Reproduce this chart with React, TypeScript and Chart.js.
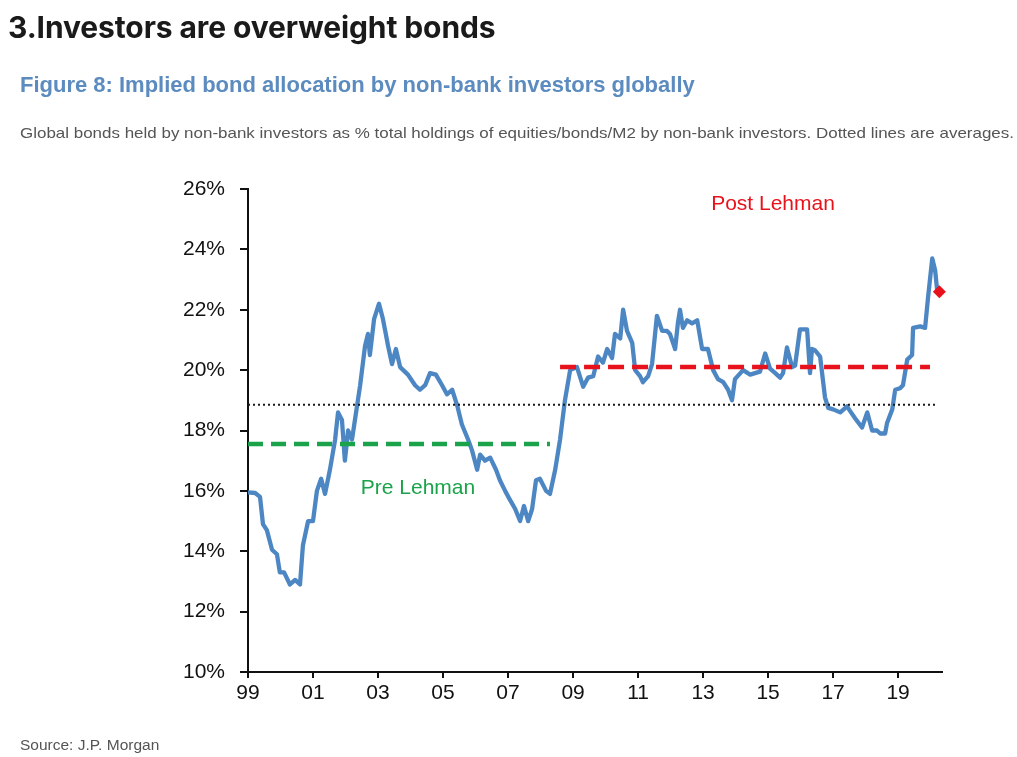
import React, { useEffect, useRef } from 'react';
import { Chart, registerables } from 'chart.js';

Chart.register(...registerables);

// ---- data ----
const years = [
  1999.0, 1999.22, 1999.37, 1999.46, 1999.58, 1999.74, 1999.89, 1999.98, 2000.11, 2000.29, 2000.45, 2000.6,
  2000.69, 2000.85, 2001.0, 2001.12, 2001.25, 2001.37, 2001.52, 2001.68, 2001.77, 2001.89, 2001.98,
  2002.08, 2002.2, 2002.29, 2002.45, 2002.6, 2002.69, 2002.75, 2002.88, 2003.03, 2003.15, 2003.31,
  2003.43, 2003.55, 2003.68, 2003.92, 2004.14, 2004.29, 2004.45, 2004.6, 2004.78, 2004.97, 2005.12,
  2005.28, 2005.43, 2005.58, 2005.77, 2005.89, 2006.05, 2006.14, 2006.29, 2006.45, 2006.63, 2006.75,
  2006.91, 2007.06, 2007.22, 2007.37, 2007.49, 2007.62, 2007.74, 2007.86, 2007.98, 2008.17, 2008.29,
  2008.45, 2008.6, 2008.75, 2008.91, 2009.12, 2009.31, 2009.46, 2009.62, 2009.77, 2009.92, 2010.05,
  2010.2, 2010.29, 2010.45, 2010.54, 2010.66, 2010.82, 2010.91, 2011.06, 2011.15, 2011.31, 2011.43,
  2011.58, 2011.74, 2011.89, 2011.98, 2012.14, 2012.23, 2012.29, 2012.38, 2012.51, 2012.66, 2012.82,
  2012.97, 2013.15, 2013.31, 2013.46, 2013.62, 2013.77, 2013.89, 2013.98, 2014.23, 2014.45, 2014.75,
  2014.91, 2015.06, 2015.22, 2015.37, 2015.46, 2015.58, 2015.74, 2015.83, 2015.98, 2016.2, 2016.29,
  2016.35, 2016.45, 2016.6, 2016.75, 2016.85, 2017.0, 2017.22, 2017.43, 2017.52, 2017.68, 2017.89,
  2018.05, 2018.2, 2018.35, 2018.45, 2018.6, 2018.66, 2018.82, 2018.91, 2019.06, 2019.15, 2019.28,
  2019.43, 2019.46, 2019.68, 2019.83, 2019.92, 2020.05, 2020.14, 2020.2,
];
const allocation = [
  15.95, 15.93, 15.8, 14.9, 14.7, 14.05, 13.9, 13.3, 13.3, 12.9, 13.05, 12.9,
  14.2, 15.0, 15.0, 16.0, 16.4, 15.9, 16.7, 17.7, 18.6, 18.35, 17.0,
  18.0, 17.7, 18.35, 19.5, 20.8, 21.2, 20.5, 21.7, 22.2, 21.7, 20.8,
  20.2, 20.7, 20.1, 19.85, 19.5, 19.35, 19.5, 19.9, 19.85, 19.5, 19.2,
  19.35, 18.85, 18.2, 17.7, 17.35, 16.7, 17.2, 17.0, 17.1, 16.7, 16.35,
  16.0, 15.7, 15.4, 15.0, 15.5, 15.0, 15.4, 16.35, 16.4, 16.0, 15.9,
  16.7, 17.7, 19.0, 20.0, 20.1, 19.45, 19.75, 19.8, 20.45, 20.25, 20.7,
  20.4, 21.2, 21.05, 22.0, 21.3, 20.9, 20.0, 19.8, 19.6, 19.8, 20.2,
  21.8, 21.3, 21.3, 21.2, 20.7, 21.6, 22.0, 21.4, 21.65, 21.55, 21.65,
  20.7, 20.7, 20.0, 19.7, 19.6, 19.35, 19.0, 19.7, 20.0, 19.85, 19.95,
  20.55, 20.05, 19.9, 19.75, 19.9, 20.75, 20.1, 20.15, 21.35, 21.35, 19.9,
  20.7, 20.65, 20.45, 19.1, 18.75, 18.7, 18.6, 18.8, 18.65, 18.4, 18.1,
  18.6, 18.0, 18.0, 17.9, 17.9, 18.25, 18.7, 19.35, 19.4, 19.5, 20.35,
  20.5, 21.4, 21.45, 21.4, 22.4, 23.7, 23.3, 22.65,
];

const fullAverage = 18.85;
const fullRange = [1999, 2020.17];
const preLehmanAverage = 17.55;
const preLehmanRange = [1999, 2008.29];
const postLehmanAverage = 20.1;
const postLehmanRange = [2008.6, 2019.98];
const latestPoint = { x: 2020.27, y: 22.6 };

const yTickValues = [10, 12, 14, 16, 18, 20, 22, 24, 26];
const xTickValues = [1999, 2001, 2003, 2005, 2007, 2009, 2011, 2013, 2015, 2017, 2019];
const xMin = 1999;
const xMax = 2020.35;

const BLUE = '#4d87c3';
const RED = '#e8121c';
const GREEN = '#1aa34a';
const FONT = "'Liberation Sans', Arial, sans-serif";

export default function App() {
  const canvasRef = useRef<HTMLCanvasElement | null>(null);

  useEffect(() => {
    const canvas = canvasRef.current;
    if (!canvas) return;
    const seriesData = years.map((x, i) => ({ x, y: allocation[i] }));
    const chart = new Chart(canvas, {
      type: 'line',
      data: {
        datasets: [
          {
            data: [{ x: fullRange[0], y: fullAverage }, { x: fullRange[1], y: fullAverage }],
            borderColor: '#1a1a1a',
            borderWidth: 2,
            borderDash: [2, 3],
            pointRadius: 0,
          },
          {
            data: [{ x: preLehmanRange[0], y: preLehmanAverage }, { x: preLehmanRange[1], y: preLehmanAverage }],
            borderColor: GREEN,
            borderWidth: 4.5,
            borderDash: [15, 8],
            pointRadius: 0,
          },
          {
            data: [{ x: postLehmanRange[0], y: postLehmanAverage }, { x: postLehmanRange[1], y: postLehmanAverage }],
            borderColor: RED,
            borderWidth: 4.5,
            borderDash: [16, 8],
            pointRadius: 0,
          },
          {
            data: [latestPoint],
            showLine: false,
            clip: false,
            pointStyle: 'rectRot',
            pointRadius: 6.5,
            backgroundColor: RED,
            borderColor: RED,
            borderWidth: 0,
          },
          {
            data: seriesData,
            borderColor: BLUE,
            borderWidth: 4.3,
            pointRadius: 0,
            tension: 0,
            borderJoinStyle: 'round',
            borderCapStyle: 'round',
          },
        ],
      },
      options: {
        responsive: false,
        animation: false,
        devicePixelRatio: 1,
        layout: { padding: { left: 178, top: 189, right: 75, bottom: 45 } },
        plugins: { legend: { display: false }, tooltip: { enabled: false } },
        scales: {
          x: {
            type: 'linear',
            min: xMin,
            max: xMax,
            afterFit: (scale: any) => { scale.height = 40; },
            afterBuildTicks: (scale: any) => { scale.ticks = xTickValues.map((v) => ({ value: v })); },
            ticks: {
              autoSkip: false,
              maxRotation: 0,
              padding: 3,
              color: '#111',
              font: { family: FONT, size: 21 },
              callback: (v: any) => String(Number(v) % 100).padStart(2, '0'),
            },
            grid: { display: true, drawOnChartArea: false, drawTicks: true, tickLength: 6, color: '#111', lineWidth: 2 },
            border: { display: true, color: '#111', width: 2 },
          },
          y: {
            type: 'linear',
            min: 10,
            max: 26,
            afterFit: (scale: any) => { scale.width = 70; },
            afterBuildTicks: (scale: any) => { scale.ticks = yTickValues.map((v) => ({ value: v })); },
            ticks: {
              autoSkip: false,
              padding: 15,
              color: '#111',
              font: { family: FONT, size: 21 },
              callback: (v: any) => `${v}%`,
            },
            grid: { display: true, drawOnChartArea: false, drawTicks: true, tickLength: 8, color: '#111', lineWidth: 2 },
            border: { display: true, color: '#111', width: 2 },
          },
        },
      },
    });
    return () => chart.destroy();
  }, []);

  return (
    <div style={{ position: 'fixed', left: 0, top: 0, width: 1017, height: 757, background: '#fff', overflow: 'hidden' }}>
      <canvas ref={canvasRef} width={1017} height={757} style={{ position: 'absolute', left: 0, top: 0 }} />
      <div style={{ position: 'absolute', left: 8, top: 7, fontFamily: "Inter, 'Open Sans', sans-serif", fontWeight: 700, fontSize: 30, color: '#1a1a1a', lineHeight: '40px', whiteSpace: 'nowrap', letterSpacing: -0.1 }}>
        3.Investors are overweight bonds
      </div>
      <div style={{ position: 'absolute', left: 20, top: 72, fontFamily: FONT, fontWeight: 700, fontSize: 22, color: '#5b8bbf', lineHeight: '26px', whiteSpace: 'nowrap' }}>
        Figure 8: Implied bond allocation by non-bank investors globally
      </div>
      <div style={{ position: 'absolute', left: 20, top: 123, fontFamily: FONT, fontSize: 14.5, color: '#555', lineHeight: '20px', whiteSpace: 'nowrap', transform: 'scaleX(1.17)', transformOrigin: '0 0' }}>
        Global bonds held by non-bank investors as % total holdings of equities/bonds/M2 by non-bank investors. Dotted lines are averages.
      </div>
      <div style={{ position: 'absolute', left: 773, top: 203, transform: 'translate(-50%, -50%)', fontFamily: FONT, fontSize: 21, color: RED, whiteSpace: 'nowrap' }}>
        Post Lehman
      </div>
      <div style={{ position: 'absolute', left: 418, top: 487, transform: 'translate(-50%, -50%)', fontFamily: FONT, fontSize: 21, color: GREEN, whiteSpace: 'nowrap' }}>
        Pre Lehman
      </div>
      <div style={{ position: 'absolute', left: 20, top: 735, fontFamily: FONT, fontSize: 15.5, color: '#555', lineHeight: '20px', whiteSpace: 'nowrap' }}>
        Source: J.P. Morgan
      </div>
    </div>
  );
}
